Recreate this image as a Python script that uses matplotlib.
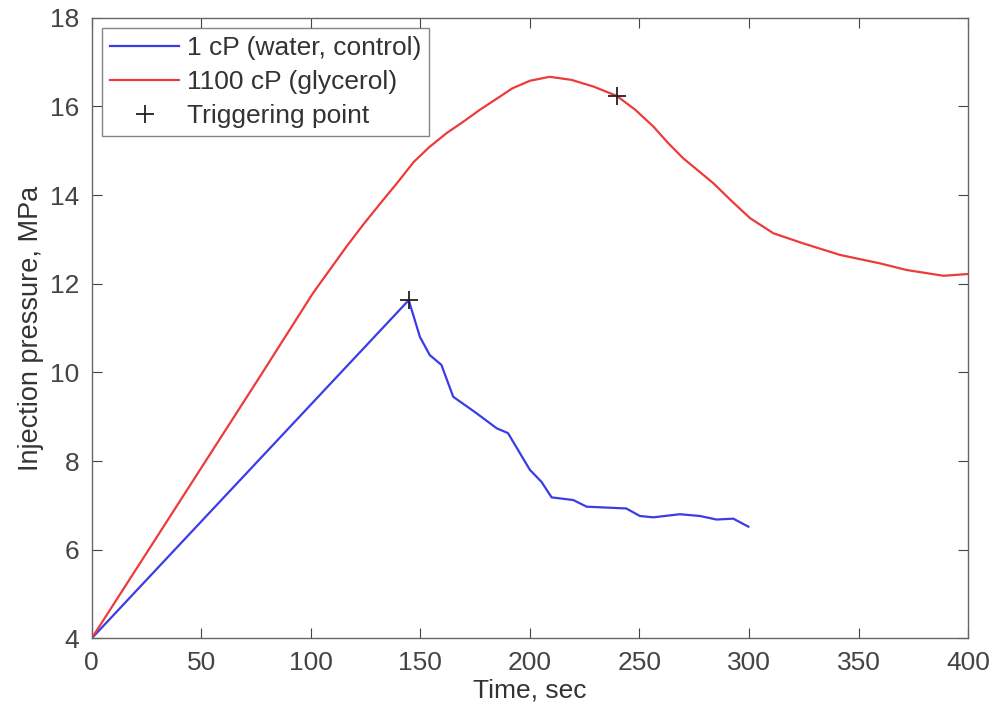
import matplotlib
matplotlib.use("Agg")
import matplotlib.pyplot as plt

plt.rcParams['font.family'] = ['Liberation Sans', 'DejaVu Sans']

# Water (1 cP) series
water_t = [0, 144.7, 149.8, 154.3, 159.6, 165.0, 175.6, 184.8, 190.0, 200.0, 205.3,
           209.9, 219.8, 225.9, 244.0, 250.2, 256.3, 268.5, 277.6, 285.2, 292.8, 299.7]
water_p = [4.0, 11.63, 10.8, 10.39, 10.17, 9.45, 9.08, 8.74, 8.63, 7.8, 7.53,
           7.18, 7.12, 6.97, 6.93, 6.76, 6.73, 6.8, 6.76, 6.68, 6.7, 6.52]

# Glycerol (1100 cP) series
gly_t = [0, 76.7, 101.0, 116.3, 124.0, 131.5, 139.0, 147.0, 154.0, 162.0, 170.0,
         177.0, 185.0, 192.0, 200.0, 209.0, 219.0, 229.0, 239.6, 248.0, 256.3,
         263.0, 270.0, 283.7, 292.0, 300.5, 311.1, 324.8, 341.6, 359.8, 372.0,
         388.8, 400.0]
gly_p = [4.0, 9.9, 11.79, 12.84, 13.34, 13.8, 14.25, 14.75, 15.08, 15.4, 15.67,
         15.92, 16.18, 16.41, 16.58, 16.67, 16.6, 16.45, 16.24, 15.93, 15.55,
         15.18, 14.83, 14.27, 13.87, 13.48, 13.14, 12.91, 12.65, 12.46, 12.31,
         12.18, 12.22]

# Triggering points
trig_t = [144.7, 239.6]
trig_p = [11.63, 16.24]

xticks = [0, 50, 100, 150, 200, 250, 300, 350, 400]
yticks = [4, 6, 8, 10, 12, 14, 16, 18]

fig = plt.figure(figsize=(9.97, 7.14), dpi=100)
ax = fig.add_axes([0.092, 0.106, 0.879, 0.869])

ax.plot(water_t, water_p, color='#3b3be8', lw=1.6, label='1 cP (water, control)')
ax.plot(gly_t, gly_p, color='#ec3b3b', lw=1.6, label='1100 cP (glycerol)')
ax.plot(trig_t, trig_p, linestyle='none', marker='+', color='#222222',
        markersize=13, markeredgewidth=1.3, label='Triggering point')

ax.set_xlim(0, 400)
ax.set_ylim(4, 18)
ax.set_xticks(xticks)
ax.set_yticks(yticks)
ax.tick_params(direction='in', top=True, right=True, length=7, width=0.8,
               labelsize=19, colors='#444444')
ax.tick_params(axis='x', pad=9)
ax.tick_params(axis='y', pad=9)
for s in ax.spines.values():
    s.set_color('#666666')
    s.set_linewidth(1.0)

ax.set_xlabel('Time, sec', fontsize=19, color='#333333', labelpad=3)
ax.set_ylabel('Injection pressure, MPa', fontsize=19.5, color='#333333', labelpad=4)

leg = ax.legend(loc='upper left', fontsize=19, frameon=True, fancybox=False,
                edgecolor='#666666', borderaxespad=0.4, handlelength=2.6,
                handletextpad=0.3, labelspacing=0.38, borderpad=0.3)
leg.get_frame().set_linewidth(1.0)
for t in leg.get_texts():
    t.set_color('#333333')

fig.savefig('out.png', dpi=100)
